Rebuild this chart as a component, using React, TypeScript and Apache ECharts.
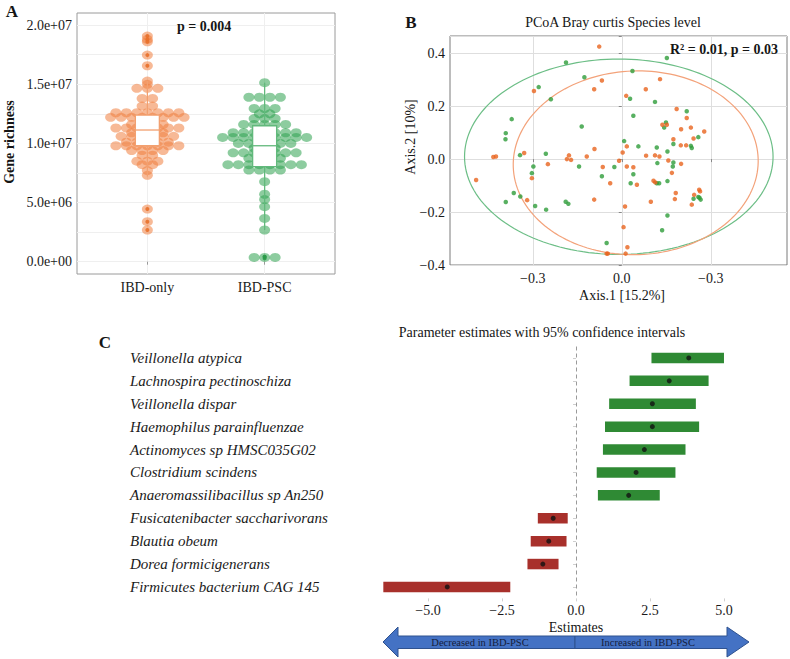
import React, { useEffect, useRef } from "react";
import * as echarts from "echarts";

const FONT = '"Liberation Serif", "DejaVu Serif", serif';

// ---------- Panel A: gene richness (millions) ----------
const groupNamesA = ["IBD-only", "IBD-PSC"];
const richnessIBDOnly = [
  19.07, 18.79, 18.59, 17.46, 16.56, 15.27, 14.99,
  14.65, 14.65, 14.65,
  13.8, 13.8,
  13.15, 13.15,
  12.59, 12.59, 12.59, 12.59, 12.59, 12.59, 12.59,
  12.2, 12.2, 12.2, 12.2, 12.2, 12.2, 12.2, 12.2,
  11.6, 11.6, 11.6, 11.6,
  11.3, 11.3, 11.3, 11.3, 11.3, 11.3, 11.3,
  10.9, 10.9, 10.9, 10.9,
  10.6, 10.6, 10.6, 10.6, 10.6, 10.6,
  10.1, 10.1, 10.1, 10.1, 10.1,
  9.8, 9.8, 9.8, 9.8, 9.8, 9.8, 9.8,
  9.4, 9.4, 9.4, 9.4,
  9.0, 9.0,
  8.5, 8.5, 8.5,
  8.2, 8.2,
  7.7, 7.3, 4.45, 3.38, 2.68,
];
const richnessIBDPSC = [
  15.13,
  13.9, 13.9, 13.9, 13.9,
  12.95, 12.95, 12.95,
  12.5, 12.5,
  12.1, 12.1, 12.1,
  11.6, 11.6, 11.6, 11.6, 11.6,
  10.9, 10.9, 10.9, 10.9, 10.9, 10.9, 10.9,
  10.5, 10.5, 10.5, 10.5, 10.5, 10.5, 10.5, 10.5, 10.5,
  10.0, 10.0, 10.0, 10.0, 10.0, 10.0,
  9.6, 9.6, 9.6,
  9.2, 9.2, 9.2, 9.2, 9.2, 9.2, 9.2,
  8.75, 8.75, 8.75, 8.75,
  8.2, 8.2, 8.2, 8.2, 8.2, 8.2, 8.2, 8.2,
  7.75, 7.75, 7.75, 7.75,
  6.76, 5.7, 5.25, 4.65, 3.66, 2.68,
  0.36, 0.36, 0.36,
];
// low whisker, Q1, median, Q3, high whisker (millions)
const boxStatsIBDOnly = [7.2, 9.8, 11.13, 12.39, 15.27];
const boxStatsIBDPSC = [2.68, 8.03, 9.8, 11.49, 15.13];
const outliersIBDOnly = [19.07, 18.79, 18.59, 17.46, 16.56, 4.45, 3.38, 2.68];
const outliersIBDPSC = [0.42, 0.28, 0.42];
const yTicksA = [0, 5, 10, 15, 20];
const yGridA = [0, 2.5, 5, 7.5, 10, 12.5, 15, 17.5, 20];

// ---------- Panel B: PCoA ----------
const pcoaIBDOnlyX = [
  -0.076, -0.067, -0.093, -0.296, 0.129, 0.015, 0.081, 0.185, 0.219, 0.2, 0.233, 0.137, 0.152,
  0.174, 0.278, 0.242, 0.199, 0.217, 0.017, -0.092, -0.118, -0.178, -0.185, -0.171, -0.329,
  -0.433, -0.424, -0.491, -0.303, -0.249, -0.064, -0.009, 0.003, 0.017, 0.039, 0.082, 0.112,
  0.127, 0.157, 0.2, 0.169, 0.107, 0.113, -0.039, 0.051, 0.182, 0.179, 0.244, 0.261, 0.264,
  0.236, 0.098, -0.093, 0.011, -0.319, 0.006, 0.019, 0.013, -0.047, -0.051,
];
const pcoaIBDOnlyY = [
  0.425, 0.297, 0.264, 0.257, 0.302, 0.239, 0.264, 0.189, 0.155, 0.113, 0.119, 0.13, 0.13,
  0.075, 0.104, 0.078, 0.052, 0.052, 0.048, 0.038, 0.01, 0.014, 0.0, -0.003, 0.023,
  0.008, 0.01, -0.079, -0.072, -0.019, -0.03, -0.006, 0.025, -0.028, -0.031, 0.013, 0.014,
  0.01, -0.005, -0.018, -0.052, -0.082, -0.088, -0.091, -0.097, -0.128, -0.151, -0.135, -0.116, -0.122,
  -0.172, -0.161, -0.153, -0.179, -0.155, -0.257, -0.333, -0.357, -0.357, -0.357,
];
const pcoaIBDPSCX = [
  -0.188, -0.126, -0.28, -0.239, 0.036, 0.028, 0.112, 0.152, 0.039, 0.219, -0.135, -0.371,
  -0.391, -0.392, 0.149, 0.143, 0.174, 0.233, 0.236, 0.258, 0.008, 0.056, 0.118, 0.154,
  -0.343, -0.256, -0.144, -0.025, -0.298, -0.303, -0.067, 0.039, 0.12, 0.174, 0.172, 0.118,
  0.126, 0.154, 0.03, -0.364, -0.342, -0.391, -0.292, -0.255, -0.189, -0.18, 0.242, 0.258,
  0.262, 0.266, 0.154, 0.136, -0.051,
];
const pcoaIBDPSCY = [
  0.365, 0.309, 0.272, 0.226, 0.333, 0.228, 0.216, 0.382, 0.164, 0.181, 0.123, 0.151,
  0.098, 0.075, 0.138, 0.119, 0.057, 0.05, 0.042, 0.083, 0.068, 0.048, 0.044, 0.029,
  0.015, 0.02, -0.028, -0.03, -0.028, -0.053, -0.065, -0.057, -0.015, -0.013, -0.028, -0.091,
  -0.091, -0.083, -0.091, -0.128, -0.141, -0.162, -0.177, -0.191, -0.161, -0.169, -0.15, -0.143,
  -0.146, -0.153, -0.213, -0.269, -0.317,
];
// center x, center y, radius x, radius y, tilt (deg)
const ellipseIBDOnly = [0.047, -0.014, 0.413, 0.347, 2];
const ellipseIBDPSC = [-0.01, 0.009, 0.52, 0.369, 0];
const xTicksB = [-0.3, 0, 0.3];
const xTickLabelsB = ["\u22120.3", "0.0", "\u22120.3"];

// ---------- Panel C: parameter estimates ----------
const taxaC = [
  "Veillonella atypica",
  "Lachnospira pectinoschiza",
  "Veillonella dispar",
  "Haemophilus parainfluenzae",
  "Actinomyces sp HMSC035G02",
  "Clostridium scindens",
  "Anaeromassilibacillus sp An250",
  "Fusicatenibacter saccharivorans",
  "Blautia obeum",
  "Dorea formicigenerans",
  "Firmicutes bacterium CAG 145",
];
const estimateC = [3.81, 3.15, 2.58, 2.58, 2.31, 2.03, 1.78, -0.77, -0.92, -1.12, -4.35];
const lowerC = [2.55, 1.81, 1.12, 0.98, 0.91, 0.7, 0.74, -1.29, -1.53, -1.64, -6.51];
const upperC = [5.0, 4.48, 4.05, 4.16, 3.7, 3.36, 2.83, -0.28, -0.32, -0.59, -2.22];
const xTicksC = [-5, -2.5, 0, 2.5, 5];

// ---------- layout constants ----------
const GA = { left: 77, top: 13, width: 258, height: 261 };
const AX_A = [0.4, 2.6];
const AY_A = [-1.04e6, 2.102e7];
const GB = { left: 450, top: 36, width: 337, height: 229 };
const GC = { left: 366.6, top: 346.5, width: 374.4, height: 251.9 };

const ORANGE_PT = "#F07F3F";
const GREEN_PT = "#2FA350";

function sci(v: number): string {
  if (v === 0) return "0.0e+00";
  const e = Math.floor(Math.log10(Math.abs(v)) + 1e-9);
  const m = v / Math.pow(10, e);
  return m.toFixed(1) + "e" + (e >= 0 ? "+" : "-") + String(Math.abs(e)).padStart(2, "0");
}
const minus = (s: string) => s.replace("-", "\u2212");

// dot-plot layout: equal values are stacked side by side, centred (pixel offsets)
function dotStack(values: number[], w: number): number[] {
  const groups = new Map<number, number[]>();
  values.forEach((v, i) => {
    if (!groups.has(v)) groups.set(v, []);
    groups.get(v)!.push(i);
  });
  const out = new Array(values.length).fill(0);
  groups.forEach((idx) => {
    const n = idx.length;
    idx.forEach((i, k) => {
      out[i] = (k - (n - 1) / 2) * w;
    });
  });
  return out;
}

function textEl(x: number, y: number, text: string, size: number, weight: string, align: string, extra: any = {}) {
  return {
    type: "text",
    x,
    y,
    ...extra,
    style: {
      text,
      fontFamily: FONT,
      fontSize: size,
      fontWeight: weight,
      fill: "#151515",
      align,
      verticalAlign: "middle",
    },
  };
}

function buildOption() {
  const pxPerUnitX = GA.width / (AX_A[1] - AX_A[0]);
  const dotData = (vals: number[], center: number) => {
    const offs = dotStack(vals, 10.5);
    return vals.map((v, i) => [center + offs[i] / pxPerUnitX, v * 1e6]);
  };

  const boxColors = ["#F2A070", "#62B97C"];
  const ellColors = ["#F3A27A", "#6CBE86"];
  const txt = { fontFamily: FONT, color: "#1a1a1a" };

  return {
    animation: false,
    backgroundColor: "#ffffff",
    title: [
      {
        text: "p = 0.004",
        left: 204,
        top: 26,
        padding: 0,
        textAlign: "center",
        textVerticalAlign: "middle",
        textStyle: { fontFamily: FONT, fontSize: 14, fontWeight: "bold", color: "#151515" },
      },
      {
        text: "R\u00B2 = 0.01, p = 0.03",
        left: 778,
        top: 49,
        padding: 0,
        textAlign: "right",
        textVerticalAlign: "middle",
        textStyle: { fontFamily: FONT, fontSize: 14, fontWeight: "bold", color: "#151515" },
      },
    ],
    grid: [
      { ...GA, show: true, borderColor: "#9a9a9a", borderWidth: 1, backgroundColor: "#fff" },
      { ...GB, show: true, borderColor: "#7a7a7a", borderWidth: 1, backgroundColor: "#fff" },
      { ...GC, show: false },
    ],
    xAxis: [
      {
        gridIndex: 0,
        type: "value",
        min: AX_A[0],
        max: AX_A[1],
        axisLine: { show: false },
        axisTick: { show: true, customValues: [1, 2], length: 3, lineStyle: { color: "#999" } },
        axisLabel: {
          customValues: [1, 2],
          formatter: (v: number) => groupNamesA[Math.round(v) - 1],
          margin: 6,
          fontSize: 14,
          ...txt,
        },
        splitLine: { show: true, lineStyle: { color: "#efefef", width: 1 } },
      },
      {
        gridIndex: 1,
        type: "value",
        min: -0.579,
        max: 0.557,
        axisLine: { show: false },
        axisTick: { show: true, customValues: xTicksB, length: 3, lineStyle: { color: "#888" } },
        axisLabel: {
          customValues: xTicksB,
          formatter: (v: number) => xTickLabelsB[xTicksB.findIndex((t) => Math.abs(t - v) < 1e-9)],
          margin: 6,
          fontSize: 14,
          ...txt,
        },
        splitLine: { show: true, lineStyle: { color: "#dedede", width: 1 } },
      },
      {
        gridIndex: 2,
        type: "value",
        min: -7.075,
        max: 5.575,
        axisLine: { show: false },
        axisTick: { show: true, customValues: xTicksC, length: 3, lineStyle: { color: "#d0d0d0" } },
        axisLabel: {
          customValues: xTicksC,
          formatter: (v: number) => minus(v.toFixed(1)),
          margin: 5,
          fontSize: 14,
          ...txt,
        },
        splitLine: { show: false },
      },
    ],
    yAxis: [
      {
        gridIndex: 0,
        type: "value",
        min: AY_A[0],
        max: AY_A[1],
        axisLine: { show: false },
        axisTick: { show: false, customValues: yGridA.map((v) => v * 1e6) },
        axisLabel: {
          customValues: yTicksA.map((v) => v * 1e6),
          formatter: (v: number) => sci(v),
          margin: 5,
          fontSize: 14,
          ...txt,
        },
        splitLine: { show: true, lineStyle: { color: "#efefef", width: 1 } },
      },
      {
        gridIndex: 1,
        type: "value",
        min: -0.4,
        max: 0.465,
        interval: 0.2,
        axisLine: { show: false },
        axisTick: { show: true, length: 3, lineStyle: { color: "#888" } },
        axisLabel: {
          formatter: (v: number) => (v > 0.44 ? "" : minus(v.toFixed(1))),
          margin: 5,
          fontSize: 14,
          ...txt,
        },
        splitLine: { show: true, lineStyle: { color: "#dedede", width: 1 } },
      },
      {
        gridIndex: 2,
        type: "category",
        data: taxaC,
        inverse: true,
        axisLine: { show: false },
        axisTick: { show: true, alignWithLabel: true, length: 3, lineStyle: { color: "#cfcfcf" } },
        axisLabel: {
          interval: 0,
          align: "left",
          margin: GC.left - 130,
          fontSize: 15,
          fontStyle: "italic",
          ...txt,
        },
        splitLine: { show: false },
      },
    ],
    series: [
      // Panel A dot-plot points
      {
        type: "scatter",
        xAxisIndex: 0,
        yAxisIndex: 0,
        data: dotData(richnessIBDOnly, 1),
        symbol: "circle",
        symbolSize: [11, 9],
        itemStyle: { color: ORANGE_PT, opacity: 0.55 },
        z: 2,
      },
      {
        type: "scatter",
        xAxisIndex: 0,
        yAxisIndex: 0,
        data: dotData(richnessIBDPSC, 2),
        symbol: "circle",
        symbolSize: [11, 9],
        itemStyle: { color: GREEN_PT, opacity: 0.55 },
        z: 2,
      },
      // Panel A boxes
      {
        type: "custom",
        xAxisIndex: 0,
        yAxisIndex: 0,
        z: 3,
        data: [
          [1, ...boxStatsIBDOnly.map((v) => v * 1e6)],
          [2, ...boxStatsIBDPSC.map((v) => v * 1e6)],
        ],
        encode: { x: 0, y: [1, 2, 3, 4, 5] },
        renderItem: (params: any, api: any) => {
          const x = api.value(0);
          const p = [1, 2, 3, 4, 5].map((i) => api.coord([x, api.value(i)]));
          const half = 12;
          const color = boxColors[params.dataIndex];
          const ls = { stroke: color, lineWidth: 1.3, fill: "none" };
          return {
            type: "group",
            children: [
              { type: "line", shape: { x1: p[0][0], y1: p[0][1], x2: p[1][0], y2: p[1][1] }, style: ls },
              { type: "line", shape: { x1: p[3][0], y1: p[3][1], x2: p[4][0], y2: p[4][1] }, style: ls },
              {
                type: "rect",
                shape: { x: p[1][0] - half, y: p[3][1], width: half * 2, height: p[1][1] - p[3][1] },
                style: { fill: "#fff", stroke: color, lineWidth: 1.3 },
              },
              {
                type: "line",
                shape: { x1: p[2][0] - half, y1: p[2][1], x2: p[2][0] + half, y2: p[2][1] },
                style: ls,
              },
            ],
          };
        },
      },
      {
        type: "scatter",
        xAxisIndex: 0,
        yAxisIndex: 0,
        z: 4,
        data: outliersIBDOnly.map((v) => [1, v * 1e6]),
        symbolSize: 4,
        itemStyle: { color: "#E8702A", opacity: 0.9 },
      },
      {
        type: "scatter",
        xAxisIndex: 0,
        yAxisIndex: 0,
        z: 4,
        data: outliersIBDPSC.map((v) => [2, v * 1e6]),
        symbolSize: 4,
        itemStyle: { color: "#2A9A48", opacity: 0.9 },
      },
      // Panel B ellipses
      {
        type: "custom",
        xAxisIndex: 1,
        yAxisIndex: 1,
        z: 2,
        data: [ellipseIBDPSC, ellipseIBDOnly],
        renderItem: (params: any, api: any) => {
          const c = api.coord([api.value(0), api.value(1)]);
          const sx = api.size([api.value(2), 0])[0];
          const sy = api.size([0, api.value(3)])[1];
          const rot = (api.value(4) * Math.PI) / 180;
          const pts: number[][] = [];
          for (let k = 0; k <= 160; k++) {
            const t = (k / 160) * Math.PI * 2;
            const ex = sx * Math.cos(t);
            const ey = sy * Math.sin(t);
            pts.push([c[0] + ex * Math.cos(rot) + ey * Math.sin(rot), c[1] - ex * Math.sin(rot) + ey * Math.cos(rot)]);
          }
          return {
            type: "polyline",
            shape: { points: pts },
            style: { stroke: params.dataIndex === 0 ? ellColors[1] : ellColors[0], lineWidth: 1.2, fill: "none" },
          };
        },
      },
      {
        type: "scatter",
        xAxisIndex: 1,
        yAxisIndex: 1,
        z: 3,
        data: pcoaIBDPSCX.map((x, i) => [x, pcoaIBDPSCY[i]]),
        symbolSize: 4.5,
        itemStyle: { color: "#2E9C3A" },
      },
      {
        type: "scatter",
        xAxisIndex: 1,
        yAxisIndex: 1,
        z: 3,
        data: pcoaIBDOnlyX.map((x, i) => [x, pcoaIBDOnlyY[i]]),
        symbolSize: 4.5,
        itemStyle: { color: "#E8641E" },
      },
      // Panel C bars
      {
        type: "custom",
        xAxisIndex: 2,
        yAxisIndex: 2,
        z: 2,
        data: taxaC.map((_, i) => [lowerC[i], upperC[i], i, estimateC[i]]),
        encode: { x: [0, 1], y: 2 },
        renderItem: (params: any, api: any) => {
          const a = api.coord([api.value(0), api.value(2)]);
          const b = api.coord([api.value(1), api.value(2)]);
          const h = 10.5;
          return {
            type: "rect",
            shape: { x: a[0], y: a[1] - h / 2, width: b[0] - a[0], height: h },
            style: { fill: api.value(3) > 0 ? "#2F8A34" : "#A8302B" },
          };
        },
      },
      {
        type: "scatter",
        xAxisIndex: 2,
        yAxisIndex: 2,
        z: 3,
        data: estimateC.map((v, i) => [v, i]),
        symbolSize: 5,
        itemStyle: { color: "#111" },
        markLine: {
          silent: true,
          symbol: "none",
          label: { show: false },
          lineStyle: { type: [4, 3], color: "#9a9a9a", width: 1 },
          data: [{ xAxis: 0 }],
        },
      },
    ],
    graphic: [
      textEl(12, 11, "A", 17, "bold", "center"),
      textEl(9, 142, "Gene richness", 14, "bold", "center", { rotation: Math.PI / 2 }),
      textEl(411, 22, "B", 17, "bold", "center"),
      textEl(613, 22, "PCoA Bray curtis Species level", 14, "normal", "center"),
      textEl(410, 137, "Axis.2 [10%]", 14, "normal", "center", { rotation: Math.PI / 2 }),
      textEl(622, 295, "Axis.1 [15.2%]", 14, "normal", "center"),
      textEl(105, 342, "C", 17, "bold", "center"),
      textEl(542, 332, "Parameter estimates with 95% confidence intervals", 14, "normal", "center"),
      textEl(576, 627, "Estimates", 14, "normal", "center"),
      {
        type: "polygon",
        shape: { points: [[383, 642], [398, 627], [398, 636], [575, 636], [575, 648.5], [398, 648.5], [398, 657]] },
        style: { fill: "#4472C4", stroke: "#2F528F", lineWidth: 1 },
      },
      {
        type: "polygon",
        shape: { points: [[749, 642], [727, 627], [727, 636], [575, 636], [575, 648.5], [727, 648.5], [727, 657]] },
        style: { fill: "#4472C4", stroke: "#2F528F", lineWidth: 1 },
      },
      {
        type: "text",
        x: 480,
        y: 642.5,
        style: { text: "Decreased in IBD-PSC", fontFamily: FONT, fontSize: 10.5, fill: "#14203d", align: "center", verticalAlign: "middle" },
      },
      {
        type: "text",
        x: 648,
        y: 642.5,
        style: { text: "Increased in IBD-PSC", fontFamily: FONT, fontSize: 10.5, fill: "#14203d", align: "center", verticalAlign: "middle" },
      },
    ],
  };
}

export default function App() {
  const ref = useRef<HTMLDivElement>(null);
  useEffect(() => {
    document.body.style.margin = "0";
    if (!ref.current) return;
    const chart = echarts.init(ref.current, undefined, { renderer: "svg" });
    chart.setOption(buildOption() as any);
    return () => chart.dispose();
  }, []);
  return <div ref={ref} style={{ position: "absolute", left: 0, top: 0, width: 790, height: 659 }} />;
}
